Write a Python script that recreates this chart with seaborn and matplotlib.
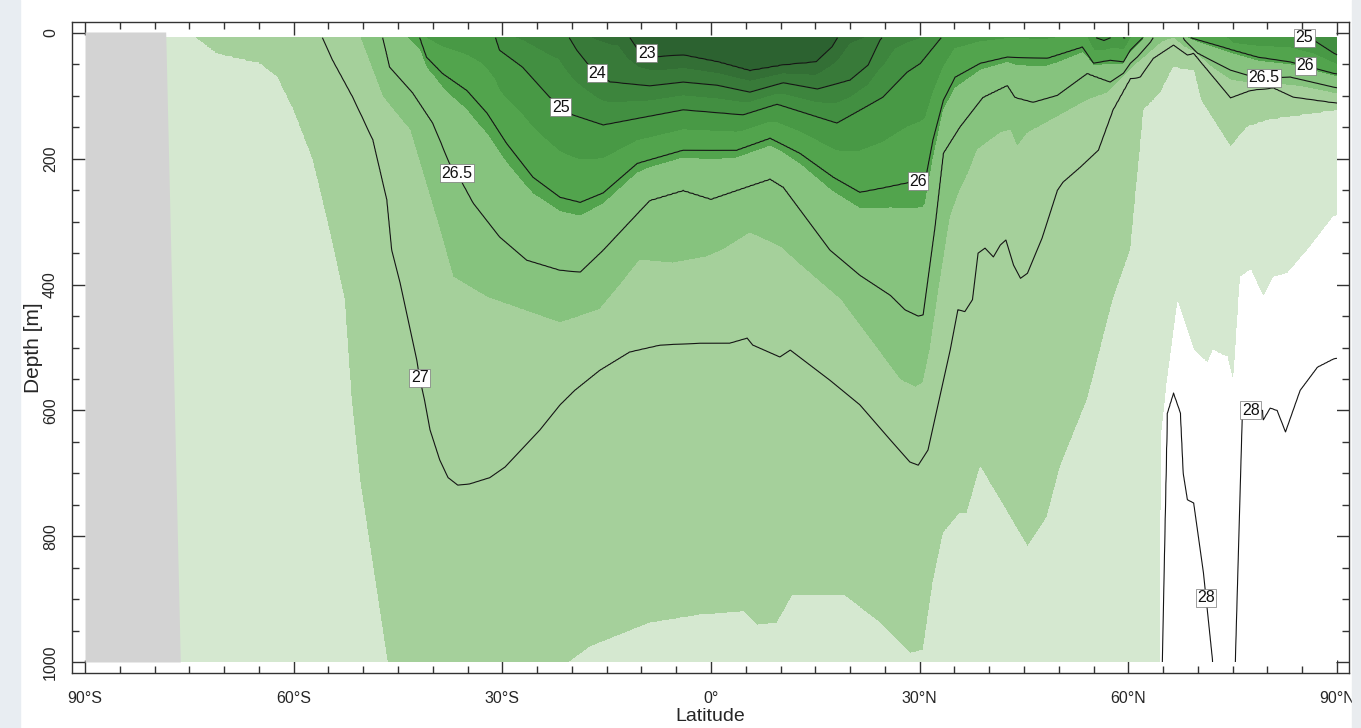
import numpy as np
import matplotlib
matplotlib.use("Agg")
import matplotlib.pyplot as plt
from matplotlib.patches import Rectangle
import seaborn as sns

# ---------------- data ----------------
# depth [m] of each isopycnal along latitude; values < 0 or > 1000 lie outside the section
lat_23 = [-13.5, -12.1, -10.5, -8.0, -4.0, 1.0, 5.6, 10.4, 15.1, 17.4, 18.6, 20.0]
dep_23 = [-40, 0, 27, 38, 35, 46, 60, 51, 46, 22, 0, -40]

lat_24 = [-22.0, -20.6, -19.3, -17.8, -16.4, -14.5, -8.8, -4.0, 0.9, 5.6, 10.4, 15.3, 20.0, 22.6, 24.3, 24.9, 26.5]
dep_24 = [-30, 3, 27, 48, 64, 78, 84, 78, 83, 94, 79, 89, 75, 51, 11, 3, -30]

lat_25 = [-33.0, -31.1, -30.4, -27.1, -23.2, -21.6, -19.9, -15.5, -4.0, 4.6, 9.5, 18.1, 24.7, 28.2, 30.1, 33.4, 35.0,
          54.0, 55.0, 56.5, 58.0, 59.5, 61.0, 73.5, 75.0, 79.0, 83.0, 86.6, 89.5, 90.0]
dep_25 = [-20, 3, 27, 54, 102, 118, 130, 146, 122, 130, 113, 143, 102, 62, 48, 3, -20,
          -20, 6, 12, 5, 8, -20, -20, 6, 4, 1, 11, 32, 35]

lat_26 = [-44.0, -41.9, -40.9, -38.6, -35.1, -32.2, -29.4, -25.6, -21.7, -18.8, -15.5, -10.6, -4.0, 3.7, 8.5, 12.8,
          17.6, 21.4, 24.7, 28.6, 30.8, 31.9, 33.4, 35.1, 38.7, 42.6, 48.3, 53.4, 55.0, 57.4, 59.3, 60.3, 62.2,
          64.0, 67.0, 68.5, 75.1, 78.6, 83.3, 89.5, 90.0]
dep_26 = [-15, 6, 38, 64, 91, 127, 175, 229, 261, 269, 254, 207, 186, 186, 167, 191,
          229, 253, 246, 237, 234, 170, 107, 70, 48, 38, 40, 22, 48, 43, 46, 27, 6,
          -15, -15, 6, 27, 38, 46, 64, 65]

lat_265 = [-49.0, -47.2, -46.2, -42.9, -40.0, -37.6, -36.5, -34.2, -30.4, -26.5, -21.7, -18.8, -15.5, -8.8, -4.0,
           0.0, 3.7, 8.5, 10.4, 17.1, 21.4, 25.8, 27.9, 29.8, 30.5, 32.2, 33.4, 35.8, 39.1, 42.6, 43.7, 46.3,
           49.8, 54.1, 57.4, 59.3, 60.3, 61.3, 63.2, 64.5, 67.0, 68.1, 69.9, 74.7, 78.6, 83.3, 89.5, 90.0]
dep_265 = [-12, 6, 54, 95, 143, 207, 223, 270, 324, 361, 377, 380, 345, 266, 250,
           264, 250, 232, 245, 345, 385, 417, 440, 450, 448, 308, 191, 149, 102, 83, 102, 110,
           99, 64, 78, 64, 48, 38, 14, -10, -10, 11, 32, 59, 72, 70, 86, 87]

lat_267 = [-52.0, -50.5, -47.2, -43.3, -39.0, -37.1, -32.2, -21.7, -16.0, -13.0, -10.2, -5.5, -0.6, 1.7, 5.6,
           9.9, 12.8, 18.6, 22.9, 27.2, 29.4, 30.5, 31.5, 32.7, 34.4, 35.8, 37.0, 38.3, 41.6, 43.0, 44.0, 45.5,
           54.1, 57.0, 60.7, 63.6, 65.0, 66.5, 67.9, 69.4, 72.0, 74.7, 77.6, 80.0, 84.7, 90.0]
dep_267 = [-8, 6, 102, 154, 313, 388, 420, 461, 440, 400, 361, 366, 356, 345, 318,
           340, 369, 424, 488, 552, 564, 556, 504, 413, 293, 250, 223, 186, 159, 154, 181, 159,
           107, 95, 54, 27, 14, 9, 22, 30, 55, 75, 80, 80, 85, 97]

lat_27 = [-58.0, -56.0, -54.4, -51.5, -48.6, -46.6, -45.9, -44.7, -42.3, -41.9, -41.2, -40.4, -39.0, -37.8, -36.4,
          -34.7, -31.8, -29.6, -24.6, -21.7, -19.6, -16.0, -11.7, -7.3, -1.6, 2.7, 5.2, 6.0, 9.9, 11.4, 17.1,
          21.4, 25.8, 28.6, 29.8, 31.2, 34.4, 35.5, 36.5, 37.6, 38.4, 39.4, 40.6, 41.6, 42.4, 43.5, 44.5, 45.5,
          47.6, 49.8, 50.6, 53.1, 55.7, 57.8, 60.3, 61.7, 63.6, 66.5, 68.5, 69.4, 74.7, 77.6, 80.9, 83.7, 89.4, 90.0]
dep_27 = [-6, 3, 43, 102, 170, 265, 345, 397, 520, 548, 583, 631, 679, 707, 719,
          717, 707, 690, 631, 591, 568, 536, 507, 496, 493, 493, 485, 496, 515, 504, 552,
          591, 647, 682, 687, 663, 504, 440, 443, 424, 350, 342, 356, 337, 329, 369, 390, 382,
          326, 250, 237, 213, 186, 122, 72, 70, 40, 19, 35, 32, 103, 91, 87, 102, 111, 112]

lat_276 = [-76.0, -74.4, -71.1, -64.9, -62.4, -60.1, -57.3, -54.8, -52.7, -51.7, -50.5, -46.6, -45.0, -35.0,
           -25.0, -20.3, -17.4, -8.8, -1.6, 4.6, 6.6, 9.5, 11.8, 19.0, 24.3, 28.6, 30.5, 31.9, 33.4, 35.8,
           36.8, 38.7, 43.0, 45.5, 48.3, 50.2, 54.1, 57.8, 60.3, 62.2, 64.6, 66.5, 69.4, 70.4, 74.7, 77.1, 80.0, 90.0]
dep_276 = [-3, 5, 32, 48, 70, 122, 202, 318, 424, 583, 711, 997, 1100, 1200,
           1080, 1000, 976, 938, 925, 920, 941, 938, 893, 893, 938, 986, 981, 874, 795, 763,
           763, 690, 770, 817, 770, 690, 583, 424, 345, 122, 95, 54, 59, 106, 181, 149, 138, 122]

lat_279 = [64.3, 64.6, 64.75, 65.6, 67.1, 69.4, 71.4, 72.2, 74.2, 75.1, 76.1, 77.6, 79.4, 80.9, 82.9, 85.8, 89.5, 90.0]
dep_279 = [1400, 997, 640, 556, 429, 504, 525, 504, 515, 556, 388, 377, 420, 388, 382, 345, 292, 290]

lat_28 = [64.3, 64.9, 65.6, 66.5, 67.5, 67.9, 68.5, 69.4, 70.8, 72.1, 72.8, 74.8, 75.4, 76.4, 79.3, 79.4,
          80.4, 81.4, 82.6, 84.7, 87.2, 89.5, 90.0]
dep_28 = [1500, 997, 604, 572, 604, 700, 742, 747, 858, 997, 1300, 1300, 997, 600, 600, 615,
          596, 600, 634, 568, 531, 518, 517]

sigma_levels = [23.0, 24.0, 25.0, 26.0, 26.5, 26.7, 27.0, 27.6, 27.9, 28.0]
sigma_lats = [lat_23, lat_24, lat_25, lat_26, lat_265, lat_267, lat_27, lat_276, lat_279, lat_28]
sigma_deps = [dep_23, dep_24, dep_25, dep_26, dep_265, dep_267, dep_27, dep_276, dep_279, dep_28]
sigma_top, sigma_bottom = 21.5, 28.6

# land (Antarctica) edge
land_depth = [-1.6, 1000.0]
land_lat = [-78.4, -76.3]

# shading and contour lines
fill_levels = [20.0, 23.0, 23.5, 24.0, 24.5, 25.0, 25.5, 26.1, 26.7, 27.6, 27.9, 30.0]
fill_colors = ["#2c6230", "#336f35", "#387a39", "#3d853d", "#428f41", "#489945", "#52a44d",
               "#86c37e", "#a5d09b", "#d5e8d0", "#ffffff"]
line_levels = [23.0, 24.0, 25.0, 26.0, 26.5, 27.0, 28.0]
label_pos = {23.0: [(-9.5, 38)], 24.0: [(-16.4, 64)], 25.0: [(-21.6, 118), (76.5, 14)],
             26.0: [(29.8, 238), (85.5, 50)], 26.5: [(-36.5, 223), (79.5, 71)],
             27.0: [(-41.9, 548)], 28.0: [(77.6, 598), (71.1, 898)]}
xtick_vals = [-90, -60, -30, 0, 30, 60, 90]
xtick_text = ["90°S", "60°S", "30°S", "0°", "30°N", "60°N", "90°N"]
ytick_vals = [0, 200, 400, 600, 800, 1000]

# ---------------- build the gridded field ----------------
lat_f = np.linspace(-79.0, 90.0, 1691)
z_f = np.linspace(7.5, 1000.0, 398)
zk = [np.full(lat_f.size, -100.0)]
for la, de in zip(sigma_lats, sigma_deps):
    zk.append(np.interp(lat_f, la, de))
zk.append(np.full(lat_f.size, 3000.0))
zk = np.array(zk)
for k in range(1, zk.shape[0]):
    zk[k] = np.maximum(zk[k], zk[k - 1] + 0.05)
vals = np.array([sigma_top] + sigma_levels + [sigma_bottom])
field = np.empty((z_f.size, lat_f.size))
for j in range(lat_f.size):
    field[:, j] = np.interp(z_f, zk[:, j], vals)

# ---------------- draw ----------------
sns.set_theme(style="ticks")
plt.rcParams["font.family"] = ["Liberation Sans", "DejaVu Sans"]

W, H = 1361, 728
fig = plt.figure(figsize=(W / 100, H / 100), dpi=100, facecolor="white")
ax = fig.add_axes([72 / W, 1 - 673 / H, (1349 - 72) / W, (673 - 22) / H])

ax.contourf(lat_f, z_f, field, levels=fill_levels, colors=fill_colors, zorder=1)
for lev in line_levels:
    cs = ax.contour(lat_f, z_f, field, levels=[lev], colors="#151515", linewidths=0.8, zorder=2)
    txts = ax.clabel(cs, manual=label_pos[lev], inline=False,
                     fontsize=11.5, fmt=lambda v: "%g" % v)
    for t in txts:
        t.set_rotation(0)
        t.set_color("#111111")
        t.set_bbox(dict(facecolor="white", edgecolor="#777777", linewidth=0.5, pad=1.0))
        t.set_zorder(5)

ax.fill_betweenx(land_depth, -90, land_lat, color="#d3d3d3", lw=0, zorder=3)

ax.set_xlim(-91.87, 91.73)
ax.set_ylim(1017.5, -17.5)
ax.set_xticks(xtick_vals)
ax.set_xticklabels(xtick_text)
ax.set_xticks(np.arange(-90, 91, 5), minor=True)
ax.set_yticks(ytick_vals)
ax.set_yticks(np.arange(0, 1001, 50), minor=True)
ax.tick_params(which="both", direction="in", top=True, right=True, width=1.0, color="#333333")
ax.tick_params(which="major", length=9.4)
ax.tick_params(which="minor", length=5.0)
ax.tick_params(axis="x", pad=13, labelsize=11.5)
ax.tick_params(axis="y", pad=10, labelsize=11.5, labelrotation=90)
for lab in ax.get_yticklabels():
    lab.set_va("center")
for s in ax.spines.values():
    s.set_linewidth(1.0)
    s.set_color("#333333")

ax.set_ylabel("Depth [m]", fontsize=15)
ax.yaxis.set_label_coords(-0.0225, 0.5)
ax.set_xlabel("Latitude", fontsize=14)
ax.xaxis.set_label_coords(0.5, -0.0535)

# slide background strips around the screenshot
fig.patches.append(Rectangle((0, 0), 20 / W, 1, transform=fig.transFigure, color="#e8edf2", zorder=10))
fig.patches.append(Rectangle((1352 / W, 0), 9 / W, 1, transform=fig.transFigure, color="#e9ecef", zorder=10))

fig.savefig("out.png", dpi=100, facecolor="white")
